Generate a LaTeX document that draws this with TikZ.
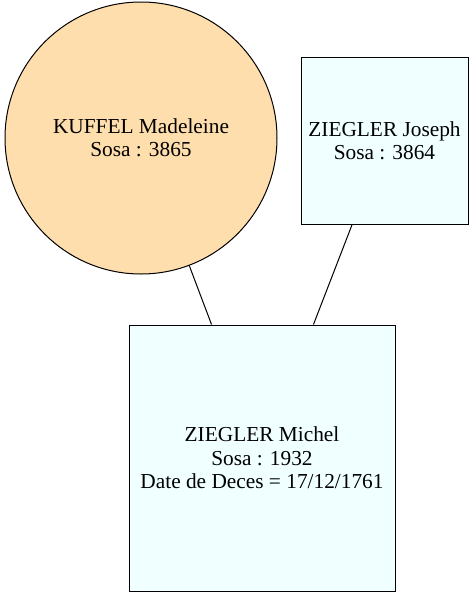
\documentclass[tikz,border=0pt]{standalone}
\usepackage{fontspec}
\setmainfont{Liberation Serif}
\definecolor{peach}{HTML}{FFDEAD}
\definecolor{azure}{HTML}{F0FFFF}
\begin{document}
\begin{tikzpicture}[x=0.75pt,y=-0.75pt,
        person/.style={draw, line width=0.75pt, align=center, inner sep=0pt, font=\fontsize{16}{17.5}\selectfont}]
        \useasboundingbox (0,0) rectangle (474,597);

        \node[person, circle, fill=peach, minimum size=204pt] (kuffel) at (141,138) {KUFFEL Madeleine\\Sosa : 3865};
        \node[person, rectangle, fill=azure, minimum width=125.25pt, minimum height=125.25pt] (joseph) at (384.5,140.5) {ZIEGLER Joseph\\Sosa : 3864};
        \node[person, rectangle, fill=azure, minimum width=199.5pt, minimum height=199.5pt] (michel) at (262,458) {ZIEGLER Michel\\Sosa : 1932\\Date de Deces = 17/12/1761};

        \draw[line width=0.75pt] (kuffel) -- (michel);
        \draw[line width=0.75pt] (joseph) -- (michel);
\end{tikzpicture}
\end{document}
